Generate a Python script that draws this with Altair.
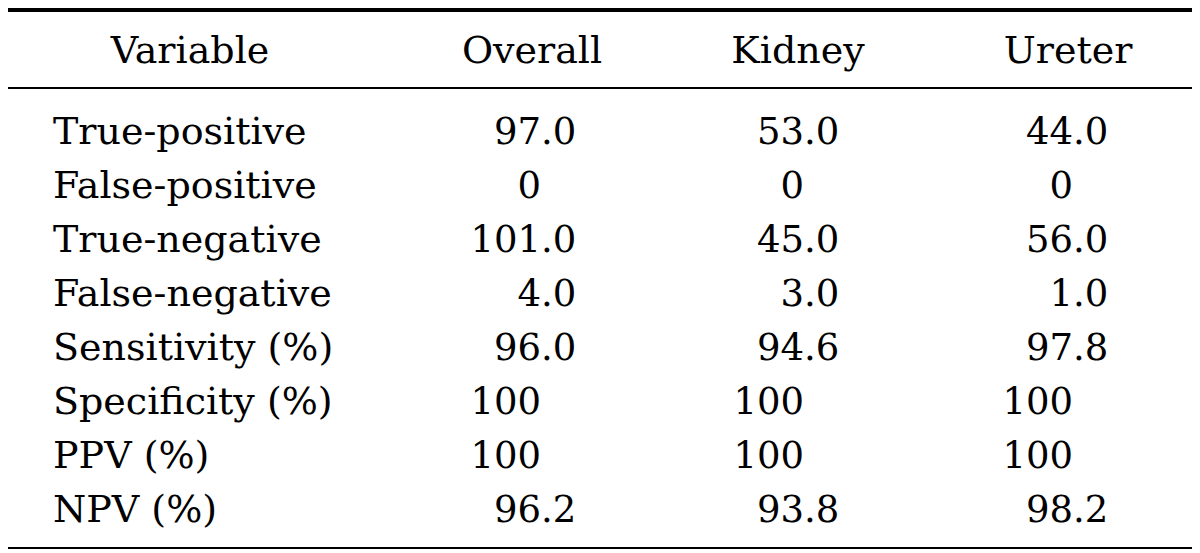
import altair as alt
import pandas as pd

# ---- data ----
variables = ["True-positive", "False-positive", "True-negative", "False-negative",
             "Sensitivity (%)", "Specificity (%)", "PPV (%)", "NPV (%)"]
overall = ["97.0", "0", "101.0", "4.0", "96.0", "100", "100", "96.2"]
kidney = ["53.0", "0", "45.0", "3.0", "94.6", "100", "100", "93.8"]
ureter = ["44.0", "0", "56.0", "1.0", "97.8", "100", "100", "98.2"]
headers = ["Variable", "Overall", "Kidney", "Ureter"]

# ---- layout (chart coordinates; page = chart + 8) ----
FONT = "DejaVu Serif"
FS_TEXT = 38
FS_NUM = 37
W, H = 1184, 542
LABEL_X = 45
DEC_X = {"Overall": 533, "Kidney": 796, "Ureter": 1065}
HEAD_X = {"Variable": 182, "Overall": 524, "Kidney": 790, "Ureter": 1060}
HEAD_Y = 55
ROW_RANGE = [136, 514]

yenc = alt.Y("Variable:N", sort=variables,
             scale=alt.Scale(type="point", range=ROW_RANGE, padding=0), axis=None)

def split(v):
    if "." in v:
        a, b = v.split(".", 1)
        return a, "." + b
    return v, ""

layers = []

# row labels
lab_df = pd.DataFrame({"Variable": variables})
layers.append(
    alt.Chart(lab_df).mark_text(font=FONT, fontSize=FS_TEXT, align="left",
                                baseline="alphabetic", color="black")
    .encode(x=alt.value(LABEL_X), y=yenc, text="Variable:N")
)

# numeric columns, decimal aligned
for name, vals in [("Overall", overall), ("Kidney", kidney), ("Ureter", ureter)]:
    ip, fp = zip(*[split(v) for v in vals])
    df = pd.DataFrame({"Variable": variables, "ip": ip, "fp": fp})
    base = alt.Chart(df)
    layers.append(
        base.mark_text(font=FONT, fontSize=FS_NUM, align="right",
                       baseline="alphabetic", color="black")
        .encode(x=alt.value(DEC_X[name]), y=yenc, text="ip:N")
    )
    layers.append(
        base.transform_filter("datum.fp != ''")
        .mark_text(font=FONT, fontSize=FS_NUM, align="left",
                   baseline="alphabetic", color="black")
        .encode(x=alt.value(DEC_X[name]), y=yenc, text="fp:N")
    )

# headers
for h in headers:
    hdf = pd.DataFrame({"h": [h]})
    layers.append(
        alt.Chart(hdf).mark_text(font=FONT, fontSize=FS_TEXT, align="center",
                                 baseline="alphabetic", color="black")
        .encode(x=alt.value(HEAD_X[h]), y=alt.value(HEAD_Y), text="h:N")
    )

# rules
rule_df = pd.DataFrame({"k": [0]})
for yv, sw in [(2, 4), (80, 2.2), (540, 2.2)]:
    layers.append(
        alt.Chart(rule_df).mark_rule(color="black", strokeWidth=sw)
        .encode(x=alt.value(0), x2=alt.value(W), y=alt.value(yv))
    )

chart = alt.layer(*layers).properties(
    width=W, height=H, padding=0,
    autosize=alt.AutoSizeParams(type="none"),
    background="white",
).configure_view(stroke=None)

chart.save("out.html", embed_options={"renderer": "svg", "actions": False})
